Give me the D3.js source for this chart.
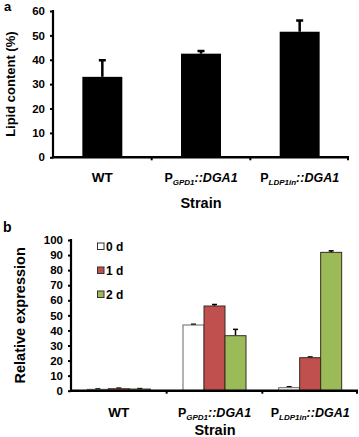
<!DOCTYPE html>
<html>
<head>
<meta charset="utf-8">
<script src="https://cdn.jsdelivr.net/npm/d3@7"></script>
<style>
  body { margin: 0; background: #fff; }
  text { font-family: 'Liberation Sans', Arial, sans-serif; font-weight: bold; fill: #000; }
</style>
</head>
<body>
<svg width="359" height="437"></svg>
<script>
// strains (x categories), shared by both panels
const strains = ['WT', 'GPD1', 'LDP1in'];

// panel a: lipid content (%)
const lipid = [33.0, 42.5, 51.5];
const lipidErr = [7.0, 1.3, 4.8];
const lipidTicks = [0, 10, 20, 30, 40, 50, 60];

// panel b: relative expression, per day
const days = ['0 d', '1 d', '2 d'];
const dayColors = ['#ffffff', '#c0504d', '#9bbb59'];
const day0 = [0.9, 43.6, 2.0];
const day1 = [1.3, 56.2, 21.9];
const day2 = [1.1, 36.5, 91.8];
const day0Err = [0.3, 0.5, 0.6];
const day1Err = [0.4, 1.0, 0.5];
const day2Err = [0.3, 4.2, 1.0];
const exprTicks = [0, 10, 20, 30, 40, 50, 60, 70, 80, 90, 100];

const svg = d3.select('svg');

// category label with subscripted promoter name
function catLabel(g, name, x, y) {
    const t = g.append('text')
        .attr('x', x)
        .attr('y', y)
        .attr('text-anchor', 'middle')
        .attr('font-size', '12.5px');
    if (name === 'WT') {
        t.attr('font-size', '13.5px').text('WT');
        return;
    }
    t.append('tspan').text('P');
    t.append('tspan')
        .attr('font-size', '8px')
        .attr('font-style', 'italic')
        .attr('dy', 3)
        .text(name);
    t.append('tspan')
        .attr('font-style', 'italic')
        .attr('dy', -3)
        .text('::DGA1');
}

function drawAxes(g, x, y, ticks, x0, x1, y0) {
    // y axis
    const ya = g.append('g')
        .attr('transform', `translate(${x0},0)`)
        .call(d3.axisLeft(y).tickValues(ticks).tickSize(3).tickPadding(5));
    ya.select('.domain').remove();
    ya.selectAll('line').attr('stroke', '#000').attr('stroke-width', 2);
    ya.selectAll('text')
        .attr('font-size', '11.5px')
        .attr('font-family', "'Liberation Sans', Arial, sans-serif")
        .attr('font-weight', 'bold');
    g.append('line')
        .attr('x1', x0).attr('x2', x0)
        .attr('y1', y(ticks[ticks.length - 1]) - 1).attr('y2', y0 + 1)
        .attr('stroke', '#000').attr('stroke-width', 2.2);

    // x axis with ticks on category boundaries
    g.append('line')
        .attr('x1', x0 - 1).attr('x2', x1)
        .attr('y1', y0).attr('y2', y0)
        .attr('stroke', '#000').attr('stroke-width', 2.5);
    g.selectAll('.xtick')
        .data(strains.slice(1).concat(['end']))
        .enter().append('line')
        .attr('x1', d => d === 'end' ? x1 - 1 : x(d))
        .attr('x2', d => d === 'end' ? x1 - 1 : x(d))
        .attr('y1', y0).attr('y2', y0 + 3)
        .attr('stroke', '#000').attr('stroke-width', 2);
}

// ---------------- panel a ----------------
const a = svg.append('g');
const axL = 53, axR = 349, ayB = 157.3;
const xA = d3.scaleBand().domain(strains).range([axL, axR]).padding(0);
const yA = d3.scaleLinear().domain([0, 60]).range([ayB, 11]);
const barW = xA.bandwidth() * 0.405;

a.selectAll('.bar')
    .data(strains)
    .enter().append('rect')
    .attr('x', d => xA(d) + xA.bandwidth() / 2 - barW / 2)
    .attr('y', (d, i) => yA(lipid[i]))
    .attr('width', barW)
    .attr('height', (d, i) => ayB - yA(lipid[i]))
    .attr('fill', '#000');

const errA = a.selectAll('.err')
    .data(strains)
    .enter().append('g');
errA.append('line')
    .attr('x1', d => xA(d) + xA.bandwidth() / 2)
    .attr('x2', d => xA(d) + xA.bandwidth() / 2)
    .attr('y1', (d, i) => yA(lipid[i]))
    .attr('y2', (d, i) => yA(lipid[i] + lipidErr[i]))
    .attr('stroke', '#000').attr('stroke-width', 2.5);
errA.append('line')
    .attr('x1', d => xA(d) + xA.bandwidth() / 2 - 3.5)
    .attr('x2', d => xA(d) + xA.bandwidth() / 2 + 3.5)
    .attr('y1', (d, i) => yA(lipid[i] + lipidErr[i]) + 0.5)
    .attr('y2', (d, i) => yA(lipid[i] + lipidErr[i]) + 0.5)
    .attr('stroke', '#000').attr('stroke-width', 2.5);

drawAxes(a, xA, yA, lipidTicks, axL, axR, ayB);

strains.forEach(s => catLabel(a, s, xA(s) + xA.bandwidth() / 2, 182));

a.append('text')
    .attr('x', 201).attr('y', 208)
    .attr('text-anchor', 'middle')
    .attr('font-size', '14.5px')
    .text('Strain');

a.append('text')
    .attr('transform', `translate(15,${(ayB + 11) / 2}) rotate(-90)`)
    .attr('text-anchor', 'middle')
    .attr('font-size', '13px')
    .text('Lipid content (%)');

a.append('text')
    .attr('x', 4).attr('y', 11)
    .attr('font-size', '13px')
    .text('a');

// ---------------- panel b ----------------
const b = svg.append('g');
const bxL = 71, bxR = 358, byB = 390.7;
const xB = d3.scaleBand().domain(strains).range([bxL, bxR]).padding(0);
const yB = d3.scaleLinear().domain([0, 100]).range([byB, 240]);
const groupW = 63;
const xDay = d3.scaleBand().domain(days).range([0, groupW]).padding(0);

const series = [day0, day1, day2];
const seriesErr = [day0Err, day1Err, day2Err];
const rows = [];
strains.forEach((s, i) => {
    days.forEach((dd, j) => {
        rows.push({ strain: s, day: dd, j: j, v: series[j][i], e: seriesErr[j][i] });
    });
});
const bx = d => xB(d.strain) + xB.bandwidth() / 2 - groupW / 2 + xDay(d.day);

// error bars first so the bar outline sits on top
b.selectAll('.errb')
    .data(rows)
    .enter().append('line')
    .attr('x1', d => bx(d) + xDay.bandwidth() / 2)
    .attr('x2', d => bx(d) + xDay.bandwidth() / 2)
    .attr('y1', d => yB(d.v))
    .attr('y2', d => yB(d.v + d.e))
    .attr('stroke', '#000').attr('stroke-width', 1.5);
b.selectAll('.capb')
    .data(rows)
    .enter().append('line')
    .attr('x1', d => bx(d) + xDay.bandwidth() / 2 - 2.5)
    .attr('x2', d => bx(d) + xDay.bandwidth() / 2 + 2.5)
    .attr('y1', d => yB(d.v + d.e))
    .attr('y2', d => yB(d.v + d.e))
    .attr('stroke', '#000').attr('stroke-width', 1.5);

b.selectAll('.barb')
    .data(rows)
    .enter().append('rect')
    .attr('x', d => bx(d))
    .attr('y', d => yB(d.v))
    .attr('width', xDay.bandwidth())
    .attr('height', d => byB - yB(d.v))
    .attr('fill', d => dayColors[d.j])
    .attr('stroke', d => d.j === 0 ? '#666' : '#3b2a22')
    .attr('stroke-width', 1);

drawAxes(b, xB, yB, exprTicks, bxL, bxR, byB);

strains.forEach(s => catLabel(b, s, xB(s) + xB.bandwidth() / 2, 417));

b.append('text')
    .attr('x', 215).attr('y', 435)
    .attr('text-anchor', 'middle')
    .attr('font-size', '14.5px')
    .text('Strain');

b.append('text')
    .attr('transform', `translate(25,${(byB + 240) / 2}) rotate(-90)`)
    .attr('text-anchor', 'middle')
    .attr('font-size', '14.5px')
    .text('Relative expression');

b.append('text')
    .attr('x', 3).attr('y', 232)
    .attr('font-size', '14px')
    .text('b');

// legend
const legend = b.append('g');
legend.selectAll('rect')
    .data(days)
    .enter().append('rect')
    .attr('x', 97.5)
    .attr('y', (d, i) => 243 + i * 24)
    .attr('width', 6.5)
    .attr('height', 6.5)
    .attr('fill', (d, i) => dayColors[i])
    .attr('stroke', '#333')
    .attr('stroke-width', 1);
legend.selectAll('text')
    .data(days)
    .enter().append('text')
    .attr('x', 106)
    .attr('y', (d, i) => 250.5 + i * 24)
    .attr('font-size', '12px')
    .text(d => d);
</script>
</body>
</html>
